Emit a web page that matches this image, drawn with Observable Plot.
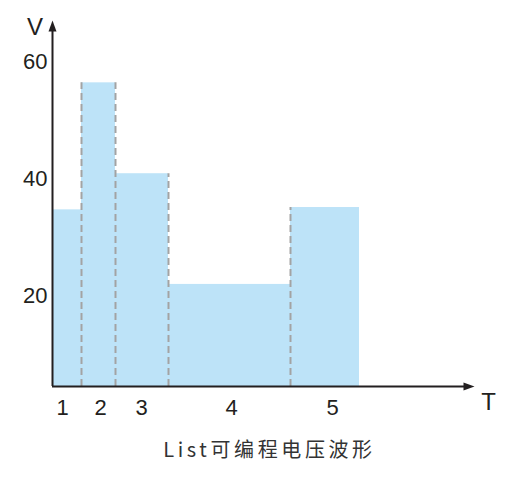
<!DOCTYPE html>
<html>
<head>
<meta charset="utf-8">
<script src="https://cdn.jsdelivr.net/npm/d3@7"></script>
<script src="https://cdn.jsdelivr.net/npm/@observablehq/plot@0.6"></script>
<style>
  html, body { margin: 0; padding: 0; background: #fff; }
  #wrap { position: relative; width: 516px; height: 478px; }
  #caption {
    position: absolute; left: 0; width: 539px; top: 434px;
    text-align: center;
    font-family: "Noto Sans CJK SC", "Noto Sans", sans-serif;
    font-size: 20px; letter-spacing: 3.6px; color: #333;
    line-height: 30px;
  }
</style>
</head>
<body>
<div id="wrap"><div id="chart"></div><div id="caption"></div></div>
<script>
// ---- data ----
const steps = ["1", "2", "3", "4", "5"];
const stepStart = [0, 2.9, 6.3, 11.6, 23.8];
const stepEnd = [2.9, 6.3, 11.6, 23.8, 30.7];
const volts = [34.7, 56.5, 40.9, 21.9, 35.1];
const stepLabelPos = [1.0, 4.8, 8.9, 17.9, 28.0];
const yTicks = [20, 40, 60];
const xAxisLabel = "T";
const yAxisLabel = "V";
const captionText = "List可编程电压波形";

const yBase = 4.38, yTop = 67.2, xMax = 42.2;

const segs = steps.map((s, i) => ({step: s, x1: stepStart[i], x2: stepEnd[i], v: volts[i]}));
const bounds = stepStart.slice(1).map((x, k) => ({x, h: Math.max(volts[k], volts[k + 1])}));
const labelMap = new Map(stepLabelPos.map((p, i) => [p, steps[i]]));

const arrowUp = {draw(c) { c.moveTo(0, 0); c.lineTo(4, 11); c.lineTo(-4, 11); c.closePath(); }};
const arrowRight = {draw(c) { c.moveTo(0, 0); c.lineTo(-11, -4); c.lineTo(-11, 4); c.closePath(); }};
const ink = "#231f20";

const chart = Plot.plot({
  width: 516, height: 430,
  marginLeft: 52, marginRight: 42, marginTop: 20, marginBottom: 44,
  style: {fontFamily: "'Liberation Sans', Arial, sans-serif", fontSize: "22px", color: ink, background: "#fff"},
  x: {domain: [0, xMax], axis: null},
  y: {domain: [yBase, yTop], axis: null},
  marks: [
    Plot.rect(segs, {x1: "x1", x2: "x2", y1: yBase, y2: "v", fill: "#bde3f8"}),
    Plot.ruleX(bounds, {x: "x", y1: yBase, y2: "h", stroke: "#a3a3a3", strokeWidth: 2, strokeDasharray: "7,4"}),
    Plot.ruleY([yBase], {x1: 0, x2: xMax - 0.8, stroke: ink, strokeWidth: 2}),
    Plot.ruleX([0], {y1: yBase, y2: yTop - 1.5, stroke: ink, strokeWidth: 2}),
    Plot.dot([[0, yTop]], {x: d => d[0], y: d => d[1], symbol: arrowUp, fill: ink, stroke: "none"}),
    Plot.dot([[xMax, yBase]], {x: d => d[0], y: d => d[1], symbol: arrowRight, fill: ink, stroke: "none"}),
    Plot.axisY({ticks: yTicks, tickSize: 0, tickPadding: 5, fontSize: 22, label: null}),
    Plot.axisX({ticks: stepLabelPos, tickFormat: d => labelMap.get(d), tickSize: 0, tickPadding: 13, fontSize: 22, label: null}),
    Plot.text([yAxisLabel], {x: 0, y: yTop, text: d => d, dx: -17.5, dy: 7, fontSize: 24, fill: ink}),
    Plot.text([xAxisLabel], {x: xMax, y: yBase, text: d => d, dx: 14, dy: 16, fontSize: 24, fill: ink})
  ]
});
document.getElementById("chart").appendChild(chart);
document.getElementById("caption").textContent = captionText;
</script>
</body>
</html>
